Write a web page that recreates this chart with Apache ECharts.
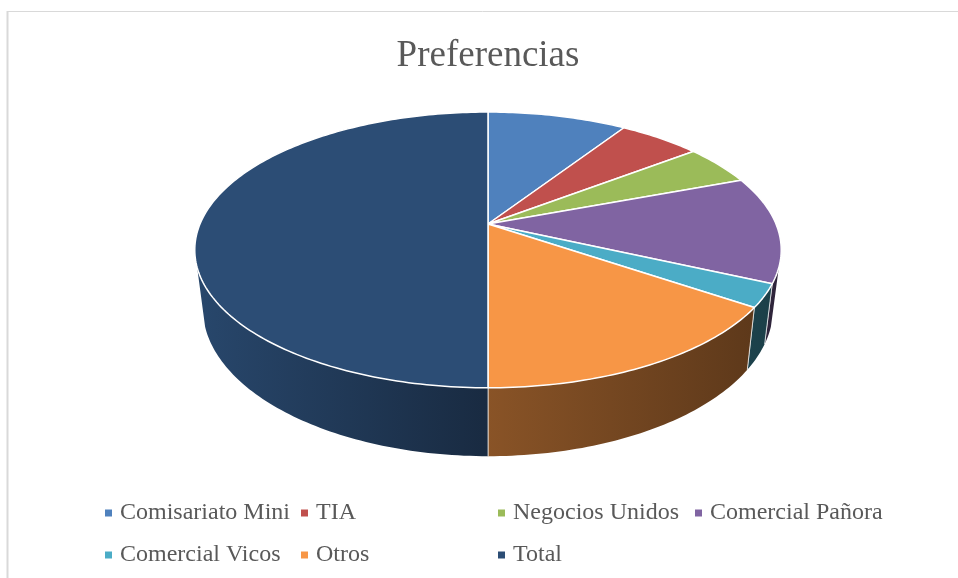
<!DOCTYPE html>
<html>
<head>
<meta charset="utf-8">
<style>
html, body { margin: 0; padding: 0; background: #fff; }
#chart { width: 958px; height: 578px; }
</style>
<script src="https://cdn.jsdelivr.net/npm/echarts@6/dist/echarts.min.js"></script>
</head>
<body>
<div id="chart"></div>
<script>
var categories = ['Comisariato Mini', 'TIA', 'Negocios Unidos', 'Comercial Pañora', 'Comercial Vicos', 'Otros', 'Total'];
var values = [9.2, 5.4, 4.7, 12.5, 2.7, 15.5, 50];
var colors = ['#4f81bd', '#c0504d', '#9bbb59', '#8064a2', '#4bacc6', '#f79646', '#2c4d75'];

// la tarta se proyecta en perspectiva, por eso el vertice no cae en el centro de la elipse
var topFace = { cx: 488, cy: 224, a: 288, b: 133, k: 0.188 };
var bottomFace = { cx: 488, cy: 280, a: 280, b: 142.7, k: 0.19 };
var wallFrom = 108, wallTo = 252; // tramo visible de la pared, en grados
var total = values.reduce(function (s, v) { return s + v; }, 0);

function project(face, deg) {
    var t = deg * Math.PI / 180;
    var X = Math.sin(t), Y = Math.cos(t);
    var w = 1 + face.k * Y;
    return [face.cx + face.a * X / w, face.cy - face.b * Y / w];
}

function arc(face, from, to) {
    var pts = [];
    var n = Math.max(2, Math.ceil(Math.abs(to - from)));
    for (var i = 0; i <= n; i++) {
        pts.push(project(face, from + (to - from) * i / n));
    }
    return pts;
}

function shade(hex, f) {
    var n = parseInt(hex.slice(1), 16);
    return 'rgb(' + Math.round((n >> 16 & 255) * f) + ',' + Math.round((n >> 8 & 255) * f) + ',' + Math.round((n & 255) * f) + ')';
}

function renderSlice(color) {
    return function (params, api) {
        var start = api.value(0) / total * 360;
        var end = api.value(1) / total * 360;
        var children = [];
        var from = Math.max(start, wallFrom), to = Math.min(end, wallTo);
        if (to > from) {
            children.push({
                type: 'polygon',
                shape: { points: arc(topFace, from, to).concat(arc(bottomFace, to, from)) },
                style: {
                    fill: new echarts.graphic.LinearGradient(195, 0, 781, 0, [
                        { offset: 0, color: shade(color, 0.92) },
                        { offset: 0.49, color: shade(color, 0.56) },
                        { offset: 1, color: shade(color, 0.36) }
                    ], true)
                }
            });
            [start, end].forEach(function (deg) {
                if (deg > wallFrom && deg < wallTo) {
                    var p = project(topFace, deg), q = project(bottomFace, deg);
                    children.push({
                        type: 'line',
                        shape: { x1: p[0], y1: p[1], x2: q[0], y2: q[1] },
                        style: { stroke: 'rgba(255,255,255,0.65)', lineWidth: 1 }
                    });
                }
            });
        }
        children.push({
            type: 'polygon',
            shape: { points: [[topFace.cx, topFace.cy]].concat(arc(topFace, start, end)) },
            style: { fill: color, stroke: '#fff', lineWidth: 1.5, lineJoin: 'round' }
        });
        return { type: 'group', children: children };
    };
}

var series = [];
var acc = 0;
for (var i = 0; i < categories.length; i++) {
    series.push({
        name: categories[i],
        type: 'custom',
        coordinateSystem: 'none',
        silent: true,
        clip: false,
        itemStyle: { color: colors[i] },
        renderItem: renderSlice(colors[i]),
        data: [[acc, acc + values[i]]]
    });
    acc += values[i];
}

function column(left, names) {
    return {
        orient: 'vertical',
        left: left,
        top: 500,
        itemWidth: 7,
        itemHeight: 7,
        itemGap: 16,
        icon: 'rect',
        padding: 0,
        selectedMode: false,
        textStyle: {
            fontFamily: '"Liberation Serif"',
            fontSize: 24,
            color: '#595959',
            lineHeight: 26,
            padding: [0, 0, 0, 3]
        },
        data: names
    };
}

var chart = echarts.init(document.getElementById('chart'));
chart.setOption({
    animation: false,
    title: {
        text: 'Preferencias',
        left: 488,
        textAlign: 'center',
        top: 38,
        padding: 0,
        textStyle: { fontFamily: '"Liberation Serif"', fontSize: 37, fontWeight: 'normal', color: '#595959' }
    },
    legend: [
        column(105, [categories[0], categories[4]]),
        column(301, [categories[1], categories[5]]),
        column(498, [categories[2], categories[6]]),
        column(695, [categories[3]])
    ],
    graphic: [
        { type: 'line', shape: { x1: 7.5, y1: 11, x2: 7.5, y2: 578 }, style: { stroke: '#d9d9d9', lineWidth: 2 } },
        { type: 'line', shape: { x1: 7, y1: 11.5, x2: 958, y2: 11.5 }, style: { stroke: '#d9d9d9', lineWidth: 1 } }
    ],
    series: series
});
</script>
</body>
</html>
